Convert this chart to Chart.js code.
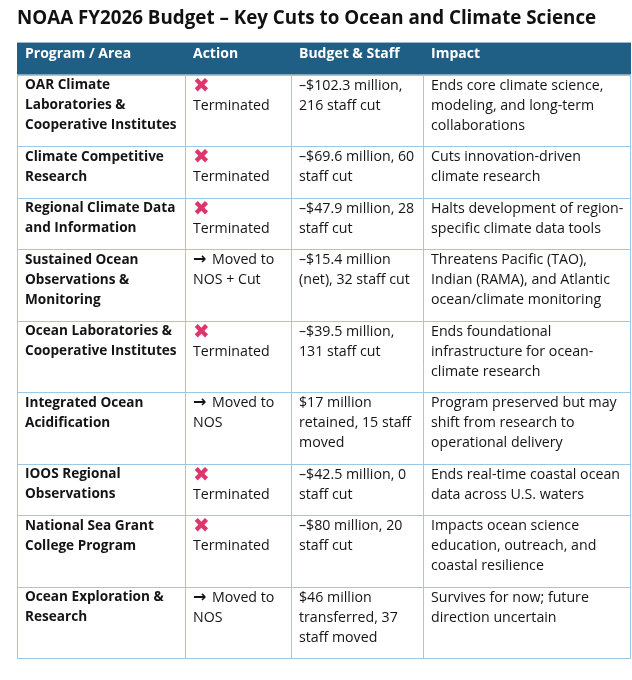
<!DOCTYPE html>
<html lang="en">
<head>
<meta charset="UTF-8">
<title>NOAA FY2026 Budget – Key Cuts</title>
<script src="https://cdn.jsdelivr.net/npm/chart.js"></script>
<style>
    html, body { margin: 0; padding: 0; background: #ffffff; }
    #wrap { width: 632px; height: 680px; }
</style>
</head>
<body>
<div id="wrap"><canvas id="budgetTable"></canvas></div>
<script>
// table content, one entry per program (lines broken as in the source)
const headers = ['Program / Area', 'Action', 'Budget & Staff', 'Impact'];
const programs = [
    'OAR Climate\nLaboratories &\nCooperative Institutes',
    'Climate Competitive\nResearch',
    'Regional Climate Data\nand Information',
    'Sustained Ocean\nObservations &\nMonitoring',
    'Ocean Laboratories &\nCooperative Institutes',
    'Integrated Ocean\nAcidification',
    'IOOS Regional\nObservations',
    'National Sea Grant\nCollege Program',
    'Ocean Exploration &\nResearch'
];
const actions = [
    'Terminated', 'Terminated', 'Terminated',
    'Moved to\nNOS + Cut',
    'Terminated',
    'Moved to\nNOS',
    'Terminated', 'Terminated',
    'Moved to\nNOS'
];
const budgets = [
    '–$102.3 million,\n216 staff cut',
    '–$69.6 million, 60\nstaff cut',
    '–$47.9 million, 28\nstaff cut',
    '–$15.4 million\n(net), 32 staff cut',
    '–$39.5 million,\n131 staff cut',
    '$17 million\nretained, 15 staff\nmoved',
    '–$42.5 million, 0\nstaff cut',
    '–$80 million, 20\nstaff cut',
    '$46 million\ntransferred, 37\nstaff moved'
];
const impacts = [
    'Ends core climate science,\nmodeling, and long-term\ncollaborations',
    'Cuts innovation-driven\nclimate research',
    'Halts development of region-\nspecific climate data tools',
    'Threatens Pacific (TAO),\nIndian (RAMA), and Atlantic\nocean/climate monitoring',
    'Ends foundational\ninfrastructure for ocean-\nclimate research',
    'Program preserved but may\nshift from research to\noperational delivery',
    'Ends real-time coastal ocean\ndata across U.S. waters',
    'Impacts ocean science\neducation, outreach, and\ncoastal resilience',
    'Survives for now; future\ndirection uncertain'
];

// layout
const colWidths = [168, 106, 132, 208];
const LINE_H = 20;
const HEADER_H = 32;
const ROW_PAD = 11.5;
const FONT = "'Open Sans', sans-serif";
const HEADER_BG = '#1f5f86';
const GRID = '#9cc8e6';
const CROSS = '#e0356a';
const INK = '#141414';

// action cell: a cross above "Terminated", or an arrow before "Moved to"
function actionLines(a) {
    if (a === 'Terminated') return [{ t: '✖', c: CROSS, mark: true }, { t: 'Terminated', c: INK }];
    return a.split('\n').map((p, i) => ({ t: p, c: INK, arrow: i === 0 }));
}

const rowCells = programs.map((p, i) => [
    p.split('\n').map(t => ({ t: t, c: INK })),
    actionLines(actions[i]),
    budgets[i].split('\n').map(t => ({ t: t, c: INK })),
    impacts[i].split('\n').map(t => ({ t: t, c: INK }))
]);

const colEdges = [0];
colWidths.forEach(w => colEdges.push(colEdges[colEdges.length - 1] + w));
const rowEdges = [0, HEADER_H];
rowCells.forEach(cells => {
    const n = Math.max(...cells.map(c => c.length));
    rowEdges.push(rowEdges[rowEdges.length - 1] + n * LINE_H + ROW_PAD);
});

const tablePlugin = {
    id: 'tableCells',
    afterDraw(chart) {
        const { ctx, scales: { x, y } } = chart;
        const px = v => x.getPixelForValue(v);
        const py = v => y.getPixelForValue(v);
        const last = colEdges.length - 1;
        ctx.save();

        // header band
        ctx.fillStyle = HEADER_BG;
        ctx.fillRect(px(0), py(0), px(colEdges[last]) - px(0), py(HEADER_H) - py(0));
        ctx.textBaseline = 'middle';
        ctx.font = 'bold 14px ' + FONT;
        ctx.fillStyle = '#ffffff';
        headers.forEach((h, c) => ctx.fillText(h, px(colEdges[c] + 8), py(11)));

        // body cells
        rowCells.forEach((cells, r) => {
            const top = rowEdges[r + 1];
            cells.forEach((lines, c) => {
                const bodyFont = (c === 0 ? 'bold 13.6px ' : '14.2px ') + FONT;
                lines.forEach((ln, i) => {
                    const lx = px(colEdges[c] + 8);
                    const ly = py(top + 11 + i * LINE_H);
                    ctx.fillStyle = ln.c;
                    if (ln.mark) {
                        ctx.font = '20px DejaVu Sans';
                        ctx.fillText(ln.t, lx, ly + 1);
                    } else if (ln.arrow) {
                        ctx.font = 'bold 16px DejaVu Sans';
                        ctx.fillText('→', lx, ly);
                        ctx.font = bodyFont;
                        ctx.fillText(ln.t, lx + 19, ly);
                    } else {
                        ctx.font = bodyFont;
                        ctx.fillText(ln.t, lx, ly);
                    }
                });
            });
        });

        // grid lines
        ctx.strokeStyle = GRID;
        ctx.lineWidth = 1;
        ctx.beginPath();
        for (let r = 1; r < rowEdges.length; r++) {
            const yy = Math.round(py(rowEdges[r])) + 0.5;
            ctx.moveTo(px(0), yy);
            ctx.lineTo(px(colEdges[last]), yy);
        }
        colEdges.forEach(e => {
            const xx = Math.round(px(e)) + (e === colEdges[last] ? -0.5 : 0.5);
            ctx.moveTo(xx, py(HEADER_H));
            ctx.lineTo(xx, py(rowEdges[rowEdges.length - 1]));
        });
        ctx.stroke();
        ctx.restore();
    }
};

new Chart(document.getElementById('budgetTable'), {
    type: 'scatter',
    data: { datasets: [] },
    options: {
        responsive: true,
        maintainAspectRatio: false,
        animation: false,
        layout: { padding: { left: 17, right: 1, top: 0, bottom: 22 } },
        plugins: {
            legend: { display: false },
            tooltip: { enabled: false },
            title: {
                display: true,
                text: 'NOAA FY2026 Budget – Key Cuts to Ocean and Climate Science',
                align: 'start',
                color: '#111111',
                font: { family: FONT, size: 18.8, weight: 'bold' },
                padding: { top: 7, bottom: 13 }
            }
        },
        scales: {
            x: { type: 'linear', display: false, min: 0, max: colEdges[colEdges.length - 1] },
            y: { type: 'linear', display: false, reverse: true, min: 0, max: rowEdges[rowEdges.length - 1] }
        }
    },
    plugins: [tablePlugin]
});
</script>
</body>
</html>
